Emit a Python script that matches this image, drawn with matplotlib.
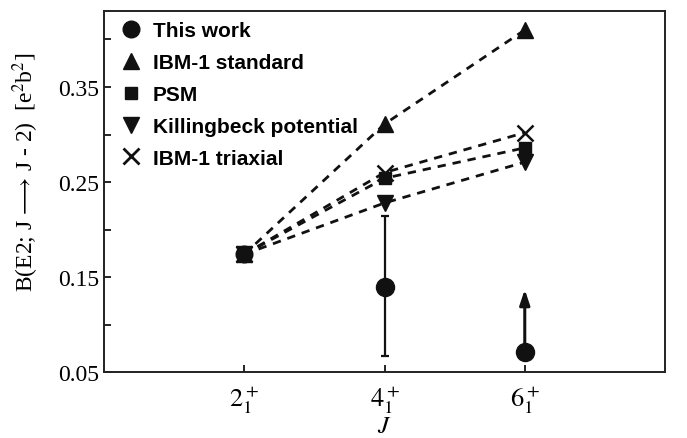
import matplotlib
matplotlib.use("Agg")
import matplotlib.pyplot as plt

plt.rcParams['mathtext.fontset'] = 'stix'
plt.rcParams['font.family'] = ['Liberation Serif', 'DejaVu Serif']

# Data
x_pos = [2, 4, 6]
tick_labels = [r"$2^+_1$", r"$4^+_1$", r"$6^+_1$"]
ibm1_standard = [0.174, 0.311, 0.410]
psm = [0.174, 0.254, 0.286]
killingbeck = [0.174, 0.228, 0.271]
ibm1_triaxial = [0.174, 0.260, 0.302]
this_work_x = [4, 6]
this_work_y = [0.140, 0.071]
this_work_err_lo = [0.073, 0.0]
this_work_err_hi = [0.074, 0.0]
lower_limit_x = 6
lower_limit_top = 0.137

fig = plt.figure(figsize=(6.87, 4.39), dpi=100)
ax = fig.add_axes([0.1514, 0.150, 0.8166, 0.8227])

dash = (0, (3, 2.5))
lw = 2.0
ax.plot(x_pos, ibm1_standard, linestyle=dash, color='#111111', lw=lw, marker='^', ms=12, zorder=3)
ax.plot(x_pos, ibm1_triaxial, linestyle=dash, color='#111111', lw=lw, marker='x', ms=11, mew=1.8, zorder=3)
ax.plot(x_pos, psm, linestyle=dash, color='#111111', lw=lw, marker='s', ms=9, zorder=3)
ax.plot(x_pos, killingbeck, linestyle=dash, color='#111111', lw=lw, marker='v', ms=11, zorder=3)
ax.plot([2], [0.174], linestyle='none', color='#111111', marker='o', ms=12, zorder=4)

# This work
ax.errorbar(this_work_x[:1], this_work_y[:1],
            yerr=[this_work_err_lo[:1], this_work_err_hi[:1]],
            fmt='o', color='#111111', ms=13, elinewidth=1.6, capsize=3, capthick=1.6, zorder=5)
ax.plot(this_work_x[1:], this_work_y[1:], 'o', color='#111111', ms=13, zorder=5)
ax.annotate('', xy=(lower_limit_x, lower_limit_top), xytext=(lower_limit_x, this_work_y[1]),
            arrowprops=dict(arrowstyle='-|>,head_length=0.9,head_width=0.3', color='#111111', lw=2.2,
                            shrinkA=0, shrinkB=0), zorder=4)

# Legend handles
h = []
h.append(ax.plot([], [], 'o', color='#111111', ms=12)[0])
h.append(ax.plot([], [], '^', color='#111111', ms=12)[0])
h.append(ax.plot([], [], 's', color='#111111', ms=9)[0])
h.append(ax.plot([], [], 'v', color='#111111', ms=12)[0])
h.append(ax.plot([], [], 'x', color='#111111', ms=12, mew=2)[0])
labels = ['This work', 'IBM-1 standard', 'PSM', 'Killingbeck potential', 'IBM-1 triaxial']
ax.legend(h, labels, loc='upper left', frameon=False,
          prop={'family': 'Liberation Sans', 'weight': 'bold', 'size': 15},
          handlelength=1.0, handletextpad=0.55, labelspacing=0.62,
          borderaxespad=0.0, bbox_to_anchor=(0.015, 0.995))

ax.set_xlim(0, 8)
ax.set_ylim(0.05, 0.43)
ax.set_xticks(x_pos)
ax.set_xticklabels(tick_labels, fontsize=19)
ax.set_yticks([0.05, 0.15, 0.25, 0.35])
ax.set_yticklabels(['0.05', '0.15', '0.25', '0.35'], fontsize=17)
ax.set_yticks([0.10, 0.20, 0.30, 0.40], minor=True)
ax.tick_params(direction='in', length=5, width=1.2, top=False, right=False)
ax.tick_params(axis='x', pad=8)
ax.tick_params(which='minor', direction='in', length=5, width=1.2)
for s in ax.spines.values():
    s.set_linewidth(1.4)
    s.set_color('#222222')

ax.set_ylabel(r"B(E2; J$\,\longrightarrow\,$J - 2)  [e$^2$b$^2$]", fontsize=17)
ax.yaxis.set_label_coords(-0.112, 0.555)
ax.set_xlabel(r"$J$", fontsize=18, labelpad=0)

fig.savefig('out.png', dpi=100)
